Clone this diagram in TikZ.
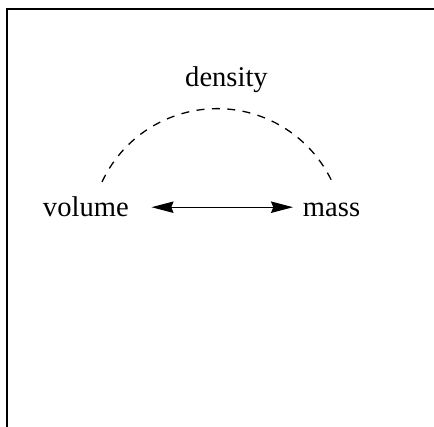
\documentclass[tikz,border=0pt]{standalone}
\usepackage{fontspec}
\setmainfont{Liberation Serif}
\usetikzlibrary{arrows.meta,positioning}

\begin{document}
\begin{tikzpicture}[x=0.35pt,y=-0.35pt,
			lbl/.style={inner sep=0pt,outer sep=0pt,anchor=base west,font=\rmfamily},
			dbl/.style={{Stealth[length=7.7pt,width=4pt,inset=0.8pt]}-{Stealth[length=7.7pt,width=4pt,inset=0.8pt]},line width=0.4pt},
			arcline/.style={dash pattern=on 2.8pt off 2.6pt,line width=0.45pt}
			]
			\useasboundingbox (0,0) rectangle (434,427);
			\draw[line width=0.45pt] (440,9) -- (7,9) -- (7,440);
			\node[lbl] (volume) at (43,217) {volume};
			\node[lbl] (mass) at (303,217) {mass};
			\node[lbl,anchor=base] (density) at (226.5,87) {density};
			\coordinate (arcL) at (102,182);
			\draw[arcline] (arcL) arc[start angle=205,end angle=335,radius=127];
			\draw[dbl,shorten <=8pt,shorten >=3.5pt] (volume.east) -- (volume.east -| mass.west);
		\end{tikzpicture}
\end{document}
